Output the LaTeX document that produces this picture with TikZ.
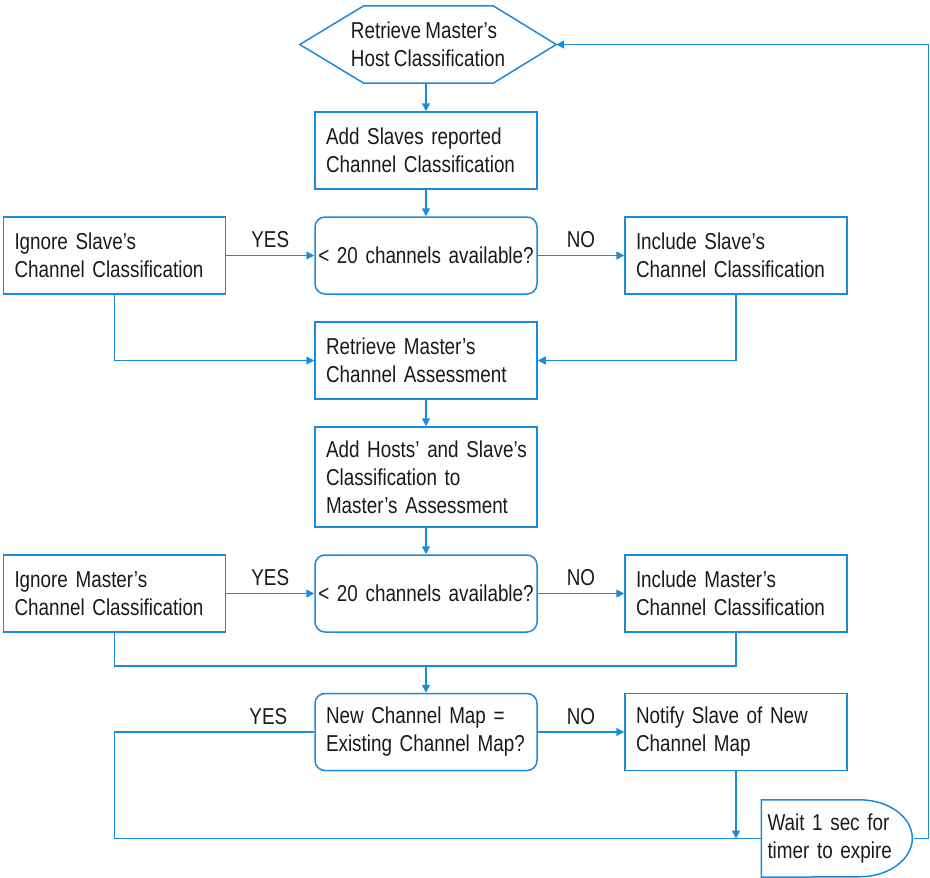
\documentclass[tikz,border=0pt]{standalone}
\usepackage{fontspec}
\setmainfont{Liberation Sans}[FakeStretch=0.82,WordSpace=0.82]
\usetikzlibrary{arrows.meta}
\definecolor{fc}{RGB}{28,138,219}
\definecolor{tc}{RGB}{26,26,26}
\hyphenpenalty=10000
\exhyphenpenalty=10000
\begin{document}
\begin{tikzpicture}[x=1pt,y=-1pt,
  txt/.style={font=\fontsize{23}{28}\selectfont, text=tc},
  box/.style={txt, rectangle, draw=fc, line width=1.5pt, minimum width=222pt, minimum height=77pt, text width=200pt, inner xsep=11pt, align=left},
  dec/.style={box, rounded corners=10pt},
  deccen/.style={dec, text width=216pt, inner xsep=3pt, align=center},
  conn/.style={draw=fc, line width=1.5pt},
  arr/.style={conn, -{Triangle[length=8pt,width=8pt]}},
  lbl/.style={txt, above, inner sep=0pt, yshift=7pt}]
\useasboundingbox (0,0) rectangle (930,878);
% hexagon start
\node[txt, minimum width=256pt, minimum height=77pt, align=left, inner sep=0pt] (hex) at (428,44.5) {Retrieve Master’s\\Host Classification};
\draw[conn] (hex.west) -- ([xshift=64pt]hex.north west) -- ([xshift=-63pt]hex.north east) -- (hex.east) -- ([xshift=-63pt]hex.south east) -- ([xshift=64pt]hex.south west) -- cycle;
\node[box] (add1) at (426,150.5) {Add Slaves reported\\Channel Classification};
\node[deccen] (dec1) at (426,255.5) {< 20 channels available?};
\node[box] (ign1) at (114.5,255.5) {Ignore Slave’s\\Channel Classification};
\node[box] (inc1) at (736,255.5) {Include Slave’s\\Channel Classification};
\node[box] (ret) at (426,360.5) {Retrieve Master’s\\Channel Assessment};
\node[box, minimum height=100pt] (addh) at (426,477) {\mbox{Add Hosts’ and Slave’s}\\Classification to\\Master’s Assessment};
\node[deccen] (dec2) at (426,593.5) {< 20 channels available?};
\node[box] (ign2) at (114.5,593.5) {Ignore Master’s\\Channel Classification};
\node[box] (inc2) at (736,593.5) {Include Master’s\\Channel Classification};
\coordinate (j) at (426,666);
\node[dec] (dec3) at (426,732) {New Channel Map =\\Existing Channel Map?};
\node[box] (notify) at (736,732) {Notify Slave of New\\Channel Map};
% delay
\node[txt, minimum width=151pt, minimum height=77pt, text width=140pt, inner xsep=6pt, align=left] (delay) at (837.5,838.5) {Wait 1 sec for\\timer to expire};
\draw[conn] (delay.north west) -- ++(98,0) arc[start angle=90, end angle=-90, x radius=53pt, y radius=38.5pt] -- (delay.south west) -- cycle;
% connectors
\draw[arr] (hex.south -| add1.north) -- (add1.north);
\draw[arr] (add1.south) -- (dec1.north);
\draw[arr] (ign1.east) -- node[lbl]{YES} (dec1.west);
\draw[arr] (dec1.east) -- node[lbl]{NO} (inc1.west);
\draw[arr] (ign1.south) |- (ret.west);
\draw[arr] (inc1.south) |- (ret.east);
\draw[arr] (ret.south) -- (addh.north);
\draw[arr] (addh.south) -- (dec2.north);
\draw[arr] (ign2.east) -- node[lbl]{YES} (dec2.west);
\draw[arr] (dec2.east) -- node[lbl]{NO} (inc2.west);
\draw[conn] (ign2.south) |- (j) -| (inc2.south);
\draw[arr] (j) -- (dec3.north);
\draw[arr] (dec3.east) -- node[lbl]{NO} (notify.west);
\draw[conn] (dec3.west) -- node[lbl, pos=0.23]{YES} (dec3.west -| ign2.south) |- (delay.west);
\draw[arr] (notify.south) -- (notify.south |- delay.west);
\draw[arr] (delay.east) -- ++(15,0) |- (hex.east);
\end{tikzpicture}
\end{document}
